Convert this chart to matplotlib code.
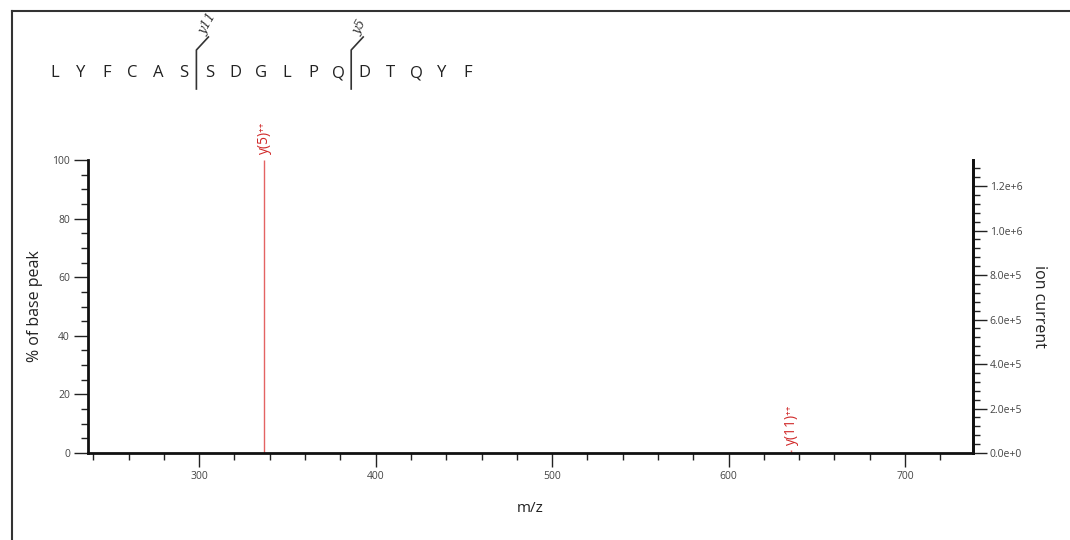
import numpy as np
import matplotlib.pyplot as plt
import matplotlib.ticker as mticker
from matplotlib.lines import Line2D

plt.rcParams['font.family'] = ['Open Sans', 'DejaVu Sans']

# data
sequence = list("LYFCASSDGLPQDTQYF")
breaks = [6, 12]            # cut after this many residues
break_labels = ['y11', 'y5']
peak_mz = [336.8, 635.6]
peak_pct = [100.0, 1.0]
peak_labels = ['y(5)⁺⁺', 'y(11)⁺⁺']
base_current = 1.317e6
xlim = (237.0, 738.5)

W, H = 1070, 540
fig = plt.figure(figsize=(W / 100, H / 100), dpi=100)


def fx(px):
    return px / W


def fy(py):
    return 1 - py / H


# outer frame
fig.add_artist(Line2D([fx(12), 1.0], [fy(11), fy(11)], color='#333333', lw=1.5))
fig.add_artist(Line2D([fx(12), fx(12)], [0.0, fy(11)], color='#333333', lw=1.5))

ax = fig.add_axes([fx(88), fy(453), fx(973) - fx(88), (453 - 160) / H])
ax.set_xlim(*xlim)
ax.set_ylim(0, 100)

red = '#e04848'
for mz, pct, lab in zip(peak_mz, peak_pct, peak_labels):
    ax.vlines(mz, 0, pct, color=red, lw=1.0, alpha=0.85)
    ax.annotate(lab, (mz, pct), xytext=(0, 4), textcoords='offset points',
                rotation=90, ha='center', va='bottom', color='#d02828', fontsize=10)

for s in ['top']:
    ax.spines[s].set_visible(False)
for s in ['left', 'bottom', 'right']:
    ax.spines[s].set_linewidth(2)
    ax.spines[s].set_color('#111111')

ax.xaxis.set_major_locator(mticker.MultipleLocator(100))
ax.xaxis.set_minor_locator(mticker.MultipleLocator(20))
ax.yaxis.set_major_locator(mticker.MultipleLocator(20))
ax.yaxis.set_minor_locator(mticker.MultipleLocator(5))
ax.tick_params(which='major', length=10, width=1, colors='#222222', labelcolor='#444444',
               labelsize=7.5, pad=3)
ax.tick_params(which='minor', length=5, width=1, colors='#222222')
ax.set_xlabel('m/z', fontsize=11, labelpad=14, color='#222222')
ax.set_ylabel('% of base peak', fontsize=11.5, color='#222222')
ax.yaxis.set_label_coords(-0.051, 0.5)

ax2 = ax.twinx()
ax2.set_ylim(0, base_current)
for s in ['top', 'left', 'bottom']:
    ax2.spines[s].set_visible(False)
ax2.spines['right'].set_linewidth(2)
ax2.spines['right'].set_color('#111111')
ax2.yaxis.set_major_locator(mticker.MultipleLocator(2e5))
ax2.yaxis.set_minor_locator(mticker.MultipleLocator(4e4))
ax2.yaxis.set_major_formatter(mticker.FuncFormatter(
    lambda v, p: ('%.1e' % v).replace('e+0', 'e+').replace('e-0', 'e-')))
ax2.tick_params(which='major', length=10, width=1, colors='#222222', labelcolor='#444444',
                labelsize=7.5, pad=2)
ax2.tick_params(which='minor', length=5, width=1, colors='#222222')
ax2.set_ylabel('ion current', fontsize=11.5, rotation=-90, labelpad=18, color='#222222')

# peptide sequence with fragment breaks
x0, step, ytxt = 55, 25.8, 73
for i, aa in enumerate(sequence):
    fig.text(fx(x0 + i * step), fy(ytxt), aa, ha='center', va='center',
             fontsize=12, color='#222222')
for b, lab in zip(breaks, break_labels):
    xb = x0 + (b - 0.5) * step - 0.5
    fig.add_artist(Line2D([fx(xb), fx(xb), fx(xb + 12)], [fy(89), fy(50), fy(37)],
                          color='#333333', lw=1.2))
    fig.text(fx(xb + 5), fy(34), lab, rotation=60, rotation_mode='anchor',
             ha='left', va='center', fontsize=9, color='#333333',
             family='DejaVu Serif', style='italic')

fig.savefig('out.png', dpi=100)
